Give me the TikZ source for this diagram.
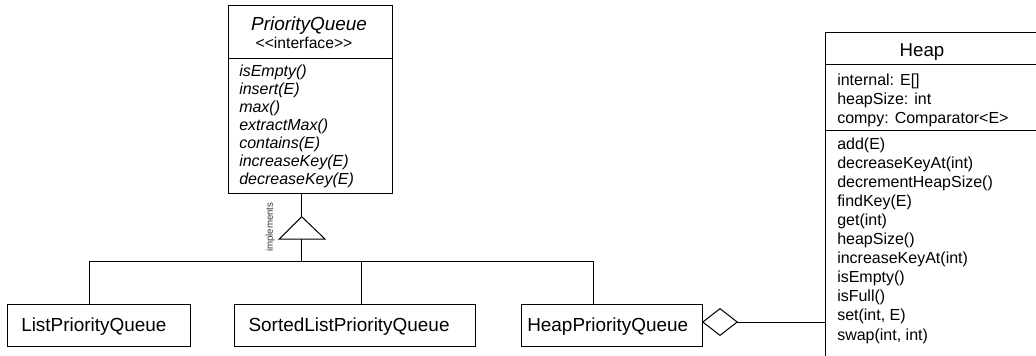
\documentclass[tikz,border=0pt]{standalone}
\usepackage{fontspec}
\setmainfont{Liberation Sans}
\usetikzlibrary{arrows.meta}
\begin{document}
\begin{tikzpicture}[x=0.75pt,y=-0.75pt,
  box/.style={draw=black, line width=0.75pt, inner sep=0, anchor=north west},
  lbl/.style={inner sep=0, anchor=base west, font=\fontsize{12}{14}\selectfont},
  ilbl/.style={inner sep=0, anchor=base west, font=\fontsize{12}{14}\selectfont\itshape},
  big/.style={inner sep=0, anchor=base, font=\fontsize{14}{16}\selectfont},
  cls/.style={inner sep=0, anchor=base west, font=\fontsize{14.2}{16}\selectfont},
  wire/.style={draw=black, line width=0.75pt}]
\useasboundingbox (0,0) rectangle (1036,355);
\clip (0,0) rectangle (1036,355);

% PriorityQueue interface
\node[box, minimum width={164*0.75pt}, minimum height={188*0.75pt}] (pq) at (228,5) {};
\node[big, font=\fontsize{14.2}{16}\selectfont\itshape] (pqt) at (309,30) {PriorityQueue};
\node[inner sep=0, anchor=base, font=\fontsize{11.75}{14}\selectfont] (pqs) at (304,48.5) {<{}<interface>{}>};
\draw[wire] (228,58) -- (392,58);
\foreach \t [count=\i from 0] in {isEmpty(),insert(E),max(),extractMax(),contains(E),increaseKey(E),decreaseKey(E)}
  \node[ilbl] (pqm\i) at (239,{76+18.05*\i}) {\t};

% Heap class
\node[box, minimum width={300*0.75pt}, minimum height={400*0.75pt}] (heap) at (825,32) {};
\node[big] (heapt) at (922,56) {Heap};
\draw[wire] (825,64) -- (1125,64);
\draw[wire] (825,130) -- (1125,130);
\foreach \t [count=\i from 0] in {internal: E[],heapSize: int,compy: Comparator<E>}
  \node[lbl] (ha\i) at (837,{85+19.2*\i}) {\t};
\foreach \t [count=\i from 0] in {add(E),decreaseKeyAt(int),decrementHeapSize(),findKey(E),get(int),heapSize(),increaseKeyAt(int),isEmpty(),isFull(),{set(int, E)},{swap(int, int)}}
  \node[lbl] (hm\i) at (837,{149+19.1*\i}) {\t};

% implementing classes
\node[box, minimum width={183*0.75pt}, minimum height={42*0.75pt}] (lpq) at (7,304) {};
\node[cls] (lpqt) at (21,331.5) {ListPriorityQueue};
\node[box, minimum width={241*0.75pt}, minimum height={42*0.75pt}] (slpq) at (234,304) {};
\node[cls] (slpqt) at (248.3,331.5) {SortedListPriorityQueue};
\node[box, minimum width={181*0.75pt}, minimum height={42*0.75pt}] (hpq) at (521,304) {};
\node[cls] (hpqt) at (527,331.5) {HeapPriorityQueue};

% realization connector
\coordinate (apex) at (301.7,216.7);
\coordinate (bl) at (279.3,239);
\coordinate (br) at (325,239);
\coordinate (base) at (301.7,239);
\coordinate (bus) at (301.7,261.5);
\coordinate (busl) at (89,261.5);
\coordinate (busm) at (361.7,261.5);
\coordinate (busr) at (593,261.5);
\draw[wire] (pq.south -| apex) -- (apex);
\draw[wire, line join=miter] (apex) -- (bl) -- (br) -- cycle;
\draw[wire] (base) -- (bus);
\draw[wire] (lpq.north -| busl) -- (busl) -- (busr) -- (hpq.north -| busr);
\draw[wire] (busm) -- (slpq.north -| busm);
\node[rotate=90, inner sep=0, font=\fontsize{7.2}{8}\selectfont, text=black!80] (impl) at (270.3,227.2) {implements};

% aggregation
\coordinate (agg) at (702,322);
\draw[wire, -{Diamond[open, length=27pt, width=21pt]}] (heap.west |- agg) -- (agg);
\end{tikzpicture}
\end{document}
